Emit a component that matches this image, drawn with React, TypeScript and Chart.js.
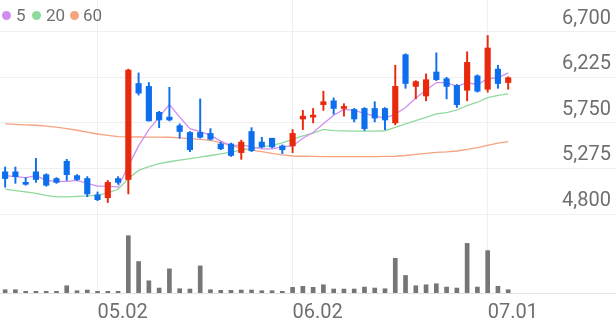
import React, { useEffect, useRef } from 'react';
import { Chart, registerables } from 'chart.js';

Chart.register(...registerables);

// ---- data ----
const dates = [
  '04.18', '04.21', '04.22', '04.23', '04.24', '04.25', '04.28', '04.29', '04.30', '05.02',
  '05.07', '05.08', '05.09', '05.12', '05.13', '05.14', '05.15', '05.16', '05.19', '05.20',
  '05.21', '05.22', '05.23', '05.26', '05.27', '05.28', '05.29', '05.30', '06.02', '06.04',
  '06.05', '06.09', '06.10', '06.11', '06.12', '06.13', '06.16', '06.17', '06.18', '06.19',
  '06.20', '06.23', '06.24', '06.25', '06.26', '06.27', '06.30', '07.01', '07.02', '07.03',
];
const emptySlots = 10;
const tickDates = ['05.02', '06.02', '07.01'];

const opens = [
  5240, 5240, 5130, 5240, 5210, 5170, 5350, 5200, 5170, 5000,
  4970, 5170, 5160, 6160, 6130, 5860, 5810, 5720, 5650, 5650,
  5640, 5530, 5530, 5440, 5660, 5550, 5590, 5510, 5510, 5790,
  5810, 5940, 5980, 5900, 5890, 5900, 5900, 5900, 5750, 6460,
  6130, 6030, 6280, 6210, 6140, 6090, 6240, 6100, 6310, 6170,
];
const highs = [
  5290, 5290, 5180, 5380, 5220, 5180, 5370, 5210, 5190, 5030,
  5150, 5190, 6310, 6270, 6170, 5870, 6120, 5740, 5660, 6000,
  5690, 5550, 5540, 5570, 5700, 5600, 5590, 5520, 5680, 5880,
  5900, 6080, 6010, 5950, 5900, 5910, 5970, 5910, 6350, 6470,
  6190, 6260, 6480, 6225, 6150, 6490, 6250, 6660, 6350, 6230,
];
const lows = [
  5080, 5120, 5100, 5130, 5090, 5120, 5150, 5150, 4980, 4940,
  4920, 5110, 5010, 6040, 5770, 5700, 5770, 5590, 5450, 5590,
  5570, 5470, 5400, 5370, 5450, 5490, 5490, 5430, 5440, 5680,
  5750, 5880, 5840, 5820, 5760, 5670, 5760, 5680, 5730, 6110,
  6000, 5980, 6190, 6000, 5910, 5980, 6070, 6070, 6110, 6100,
];
const closes = [
  5170, 5190, 5110, 5160, 5100, 5130, 5210, 5160, 5010, 4950,
  5130, 5130, 6300, 6060, 5770, 5780, 5780, 5660, 5470, 5600,
  5580, 5480, 5410, 5550, 5460, 5500, 5500, 5470, 5640, 5820,
  5820, 5970, 5900, 5920, 5790, 5690, 5800, 5780, 6130, 6160,
  6180, 6200, 6200, 6130, 5940, 6380, 6080, 6530, 6160, 6220,
];
const volumes = [
  330, 330, 170, 170, 170, 170, 730, 230, 300, 170,
  170, 170, 5770, 3170, 1230, 500, 2430, 430, 400, 2730,
  330, 270, 270, 300, 300, 230, 230, 170, 570, 670,
  570, 830, 400, 400, 400, 600, 500, 430, 3500, 1770,
  730, 830, 930, 600, 500, 5000, 600, 4270, 670, 330,
];
const ma5 = [
  5200, 5190, 5180, 5200, 5150, 5140, 5140, 5150, 5120, 5090,
  5090, 5080, 5300, 5510, 5680, 5810, 5940, 5810, 5690, 5660,
  5620, 5560, 5510, 5520, 5500, 5480, 5480, 5500, 5510, 5590,
  5650, 5740, 5830, 5890, 5880, 5850, 5820, 5800, 5840, 5910,
  6010, 6090, 6170, 6170, 6130, 6170, 6150, 6210, 6220, 6270,
];
const ma20 = [
  5060, 5045, 5030, 5015, 4995, 4978, 4980, 4985, 4990, 4998,
  5020, 5058, 5170, 5255, 5295, 5325, 5345, 5362, 5378, 5392,
  5410, 5426, 5445, 5465, 5480, 5500, 5515, 5541, 5577, 5614,
  5642, 5683, 5669, 5666, 5664, 5664, 5665, 5668, 5704, 5739,
  5773, 5808, 5843, 5856, 5884, 5929, 5965, 6013, 6037, 6051,
];
const ma60 = [
  5740, 5735, 5730, 5725, 5715, 5705, 5690, 5673, 5653, 5634,
  5620, 5607, 5604, 5603, 5602, 5601, 5600, 5593, 5586, 5577,
  5567, 5544, 5515, 5485, 5466, 5450, 5433, 5416, 5405, 5402,
  5400, 5399, 5398, 5398, 5398, 5398, 5399, 5400, 5402, 5410,
  5421, 5433, 5442, 5447, 5457, 5473, 5492, 5515, 5538, 5554,
];
const priceTicks = [4800, 5275, 5750, 6225, 6700];
const priceTickLabels = ['4,800', '5,275', '5,750', '6,225', '6,700'];
const maNames = ['5', '20', '60'];

// ---- styles ----
const W = 616;
const TOP_H = 225;
const VOL_H = 96;
const UP = '#e8290c';
const DOWN = '#0e6fee';
const MA_COLORS = ['#cf8ff0', '#8fd99f', '#f6a37f'];
const GRID = '#efefef';
const TEXT = '#6f6f6f';
const FONT = 'Roboto';
const PRICE_MAX = 7030;
const PRICE_MIN = 4686;
const VOL_MAX = 6850;

const labels = [...dates, ...Array(emptySlots).fill('')];
const isTick = (i: number) => tickDates.includes(labels[i]);
const vGridColor = (ctx: any) => (isTick(ctx.index) ? GRID : 'rgba(0,0,0,0)');
const noPad = (s: any) => {
  s.paddingLeft = 0;
  s.paddingRight = 0;
  s.paddingTop = 0;
  s.paddingBottom = 0;
};

export default function App() {
  const topRef = useRef<HTMLCanvasElement>(null);
  const volRef = useRef<HTMLCanvasElement>(null);

  useEffect(() => {
    const upDown = opens.map((o, i) => (closes[i] >= o ? UP : DOWN));
    const top = new Chart(topRef.current!, {
      type: 'bar',
      data: {
        labels,
        datasets: [
          {
            type: 'line', data: ma60, borderColor: MA_COLORS[2], borderWidth: 1.3,
            pointRadius: 0, tension: 0, order: 5,
          } as any,
          {
            type: 'line', data: ma20, borderColor: MA_COLORS[1], borderWidth: 1.3,
            pointRadius: 0, tension: 0, order: 4,
          } as any,
          {
            type: 'line', data: ma5, borderColor: MA_COLORS[0], borderWidth: 1.3,
            pointRadius: 0, tension: 0, order: 3,
          } as any,
          {
            type: 'bar', data: lows.map((l, i) => [l, highs[i]]), backgroundColor: upDown,
            barThickness: 1.3, grouped: false, order: 2,
          } as any,
          {
            type: 'bar', data: opens.map((o, i) => [o, closes[i]]), backgroundColor: upDown,
            barThickness: 5.5, grouped: false, minBarLength: 2, order: 1,
          } as any,
        ],
      },
      options: {
        responsive: false,
        animation: false,
        layout: { padding: 0 },
        plugins: { legend: { display: false }, tooltip: { enabled: false } },
        scales: {
          x: {
            offset: true,
            grid: { offset: false, drawTicks: false, color: vGridColor },
            ticks: { display: false, autoSkip: false },
            border: { display: false },
            afterFit: (s: any) => {
              noPad(s);
              s.height = 0;
            },
          },
          y: {
            position: 'right',
            min: PRICE_MIN,
            max: PRICE_MAX,
            afterBuildTicks: (axis: any) => {
              axis.ticks = priceTicks.map((v) => ({ value: v }));
            },
            afterFit: (s: any) => {
              noPad(s);
              s.width = 0;
            },
            grid: { color: GRID, drawTicks: false },
            border: { display: false },
            ticks: {
              mirror: true,
              padding: -5,
              labelOffset: -13,
              color: TEXT,
              font: { family: FONT, size: 20 },
              callback: (v: any) => priceTickLabels[priceTicks.indexOf(Number(v))],
            },
          },
        },
      } as any,
    });

    const vol = new Chart(volRef.current!, {
      type: 'bar',
      data: {
        labels,
        datasets: [
          {
            data: volumes, backgroundColor: '#767676', barThickness: 4,
          },
        ],
      },
      options: {
        responsive: false,
        animation: false,
        layout: { padding: 0 },
        plugins: { legend: { display: false }, tooltip: { enabled: false } },
        scales: {
          x: {
            offset: true,
            grid: { offset: false, drawTicks: false, color: vGridColor },
            border: { display: true, color: '#e2e2e2' },
            afterFit: (s: any) => {
              noPad(s);
              s.height = 28;
            },
            ticks: {
              autoSkip: false,
              maxRotation: 0,
              minRotation: 0,
              align: 'start',
              padding: 8,
              color: TEXT,
              font: { family: FONT, size: 20 },
              callback: (_v: any, i: number) => (isTick(i) ? labels[i] : ''),
            },
          },
          y: { display: false, min: 0, max: VOL_MAX },
        },
      } as any,
    });

    return () => {
      top.destroy();
      vol.destroy();
    };
  }, []);

  const legendPos = [
    { dot: 6.5, text: 16 },
    { dot: 36.5, text: 46 },
    { dot: 74, text: 83 },
  ];

  return (
    <div style={{ position: 'relative', width: W, height: TOP_H + VOL_H, background: '#fff' }}>
      <style>{'body{margin:0;}'}</style>
      <canvas ref={topRef} width={W} height={TOP_H} style={{ display: 'block' }} />
      <canvas ref={volRef} width={W} height={VOL_H} style={{ display: 'block' }} />
      {maNames.map((name, i) => (
        <React.Fragment key={name}>
          <span
            style={{
              position: 'absolute', left: legendPos[i].dot - 4.5, top: 11, width: 9, height: 9,
              borderRadius: '50%', background: MA_COLORS[i],
            }}
          />
          <span
            style={{
              position: 'absolute', left: legendPos[i].text, top: 5, lineHeight: '20px',
              fontFamily: FONT, fontSize: 17, color: TEXT,
            }}
          >
            {name}
          </span>
        </React.Fragment>
      ))}
    </div>
  );
}
